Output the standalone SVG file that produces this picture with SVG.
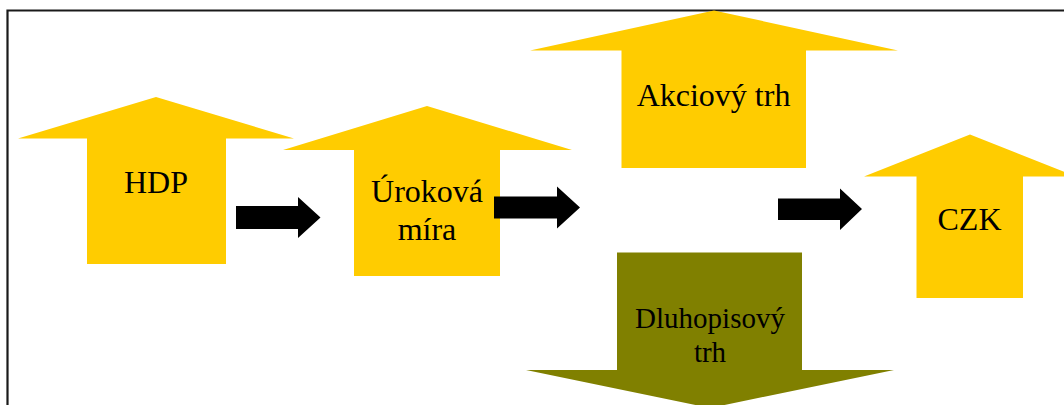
<svg xmlns="http://www.w3.org/2000/svg" width="1064" height="405" viewBox="0 0 1064 405">
<style>
.up{fill:#FFCC00}
.down{fill:#808000}
.conn{fill:#000}
text{font-family:"Liberation Serif","Times New Roman",serif;fill:#000;text-anchor:middle}
.t{font-size:32px}
.s{font-size:29px}
</style>
<rect x="0" y="0" width="1064" height="405" fill="#fff"/>
<path d="M7.5 405 V10.5 H1064" fill="none" stroke="#1a1a1a" stroke-width="2.2"/>
<g id="node-hdp">
<polygon class="up" points="156,97 294,138.5 226,138.5 226,264 87,264 87,138.5 18,138.5"/>
<text class="t" x="156" y="193">HDP</text>
</g>
<g id="node-urokova">
<polygon class="up" points="427,106 572,150 500,150 500,276 354,276 354,150 283,150"/>
<text class="t" x="427" y="201.5">Úroková</text>
<text class="t" x="427" y="240">míra</text>
</g>
<g id="node-akciovy">
<polygon class="up" points="714,10.5 898,50.5 806,50.5 806,168 621.5,168 621.5,50.5 530,50.5"/>
<text class="t" x="713.5" y="105.5">Akciový trh</text>
</g>
<g id="node-dluhopisovy">
<polygon class="down" points="617,252.5 802,252.5 802,370 894,370 710,408 526,370 617,370"/>
<text class="s" x="710" y="327.5">Dluhopisový</text>
<text class="s" x="710" y="361.5">trh</text>
</g>
<g id="node-czk">
<polygon class="up" points="970,134.5 1076,176.5 1023,176.5 1023,298 916.5,298 916.5,176.5 864,176.5"/>
<text class="t" x="969.5" y="230">CZK</text>
</g>
<g id="connectors">
<polygon class="conn" points="236,206 298,206 298,197 320.5,217.5 298,238 298,229 236,229"/>
<polygon class="conn" points="494,196.5 557,196.5 557,186.5 580,207.5 557,228.5 557,218.5 494,218.5"/>
<polygon class="conn" points="778,198.5 840,198.5 840,188.5 862,209 840,230 840,220 778,220"/>
</g>
</svg>
